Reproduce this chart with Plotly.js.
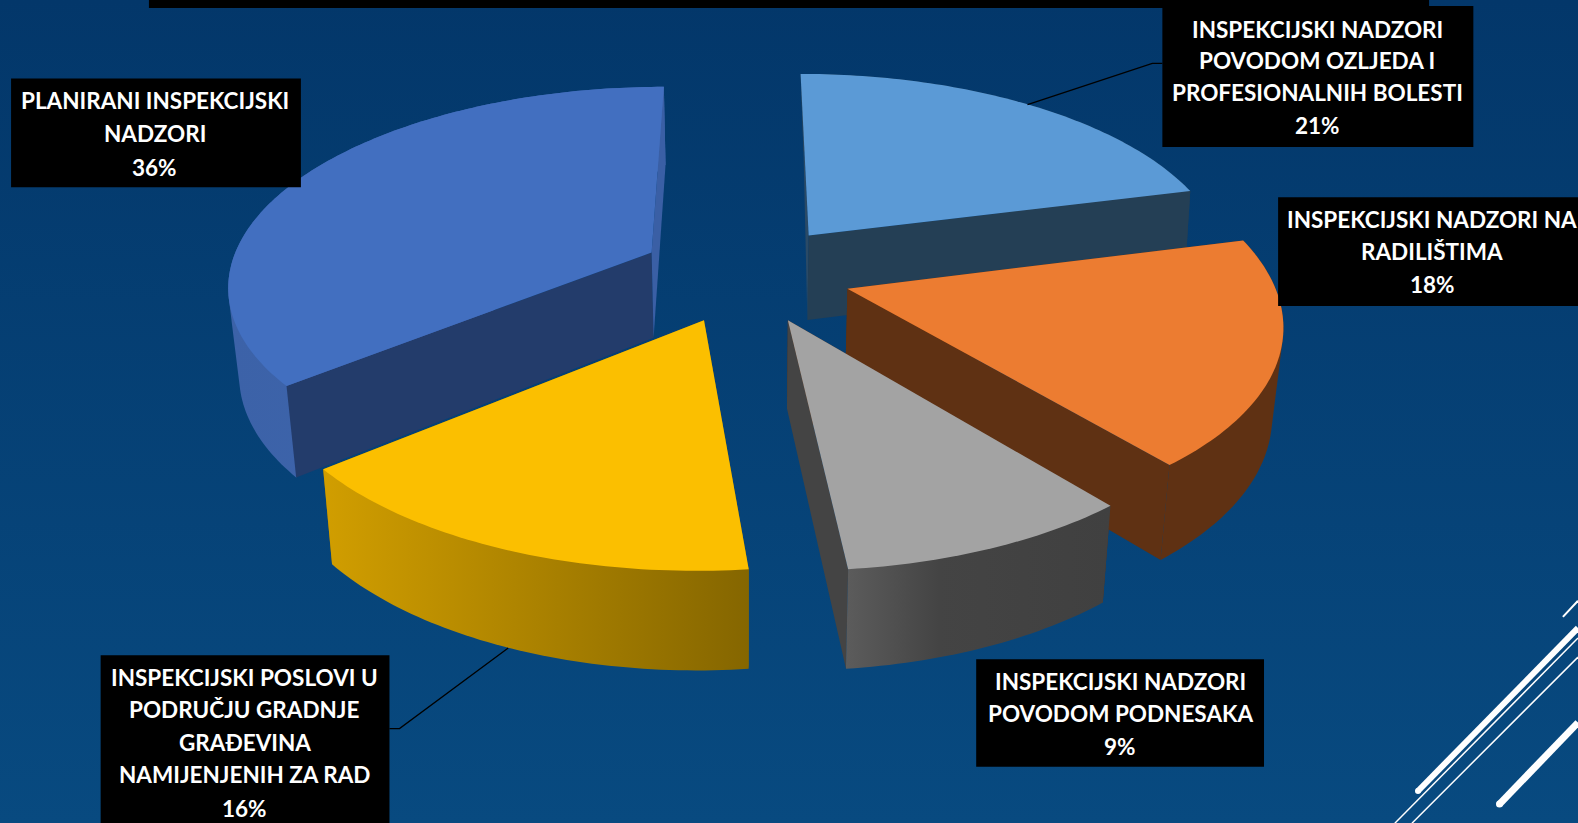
<!DOCTYPE html>
<html><head><meta charset="utf-8">
<script src="https://cdn.plot.ly/plotly-3.0.1.min.js"></script>
<style>html,body{margin:0;padding:0;background:#04406f;overflow:hidden}#c{width:1578px;height:823px}</style>
</head><body><div id="c"></div>
<script>
// ---- data ----
const categories = ["INSPEKCIJSKI NADZORI POVODOM OZLJEDA I PROFESIONALNIH BOLESTI","INSPEKCIJSKI NADZORI NA RADILIŠTIMA","INSPEKCIJSKI NADZORI POVODOM PODNESAKA","INSPEKCIJSKI POSLOVI U PODRUČJU GRADNJE GRAĐEVINA NAMIJENJENIH ZA RAD","PLANIRANI INSPEKCIJSKI NADZORI"];
const values = [21,18.05,9.34,15.66,35.95];
const labelLines = [
 ["INSPEKCIJSKI NADZORI","POVODOM OZLJEDA I","PROFESIONALNIH BOLESTI","21%"],
 ["INSPEKCIJSKI NADZORI NA","RADILIŠTIMA","18%"],
 ["INSPEKCIJSKI NADZORI","POVODOM PODNESAKA","9%"],
 ["INSPEKCIJSKI POSLOVI U","PODRUČJU GRADNJE","GRAĐEVINA","NAMIJENJENIH ZA RAD","16%"],
 ["PLANIRANI INSPEKCIJSKI","NADZORI","36%"]
];
// ---- style ----
const topDraw = ["#5b9ad6","#ec7c31","#a3a3a3","#fbbf00","#426fc0"];
const cutColors = [["#2a4a66","#243f55"],["#5f3113","#5f3113"],["#5f3113","#444444"],["#8a6a00","#8a6a00"],["#233c6b","#3a5fa5"]];
const rimScale = [
 [[0,"#243f55"],[1,"#243f55"]],
 [[0,"#5f3113"],[1,"#5f3113"]],
 [[0,"#5c5c5c"],[0.35,"#444444"],[1,"#404040"]],
 [[0,"#d19e00"],[1,"#856600"]],
 [[0,"#3c62a8"],[1,"#3f68b0"]]];
const rimFirst = [true,true,false,false,true];
const boxes = [[1155,1464,6,146,[29,60,92,125],1309],[1270,1600,196,304,[218,250,283],1423],[970,1256,655,762,[677,709,742],1113],[100,387,651,840,[673,705,738,770,803],243],[11,299,78,186,[100,133,166],154]];
// ---- camera of the 3-D pie (disk -> picture) ----
const HX=741, HY=-1018, Q0=7.755e-4, M=1.175e-4, A=0.326, EXPL=0.25;
const W=1568, H=817.8;
const NUDGE=[4,0,0,0,0];
function proj(X,Y){const d=1/(Q0+M*Y);return [HX+A*X*d, d+HY];}
function drop(p,n){return [p[0]+(HX-p[0])*0.021+(n||0), p[1]+84+0.045*(p[1]-234)];}
function poly(pts,extra){return Object.assign({type:'scatter',mode:'lines',x:pts.map(p=>p[0]),y:pts.map(p=>p[1]),fill:'toself',line:{width:0,simplify:false},hoverinfo:'skip',showlegend:false},extra);}
function hull(pts){
  const p=pts.slice().sort((a,b)=>a[0]-b[0]||a[1]-b[1]);
  const cr=(o,a,b)=>(a[0]-o[0])*(b[1]-o[1])-(a[1]-o[1])*(b[0]-o[0]);
  const lo=[],up=[];
  p.forEach(q=>{while(lo.length>1&&cr(lo[lo.length-2],lo[lo.length-1],q)<=0)lo.pop();lo.push(q);});
  p.slice().reverse().forEach(q=>{while(up.length>1&&cr(up[up.length-2],up[up.length-1],q)<=0)up.pop();up.push(q);});
  const h=lo.slice(0,-1).concat(up.slice(0,-1));h.push(h[0]);return h;
}

const total=values.reduce((a,b)=>a+b,0);
let ang=0; const slices=values.map((v,i)=>{const s=ang,e=ang+v/total*2*Math.PI;ang=e;return {i,s,e};});
const traces=[];
// background
traces.push({type:'scatter',mode:'lines',x:[0,W,W,0,0],y:[0,0,H,H,0],fill:'toself',line:{width:0},hoverinfo:'skip',showlegend:false,
 fillgradient:{type:'vertical',colorscale:[[0,'#084a80'],[1,'#03376a']]}});
// painter order: back to front
[0,4,1,2,3].forEach(k=>{
  const {s,e,i}=slices[k], mid=(s+e)/2, ox=EXPL*Math.sin(mid), oy=EXPL*Math.cos(mid);
  const apex=proj(ox,oy), rim=[];
  const n=Math.ceil((e-s)/(Math.PI/180));
  for(let j=0;j<=n;j++){const t=s+(e-s)*j/n;rim.push(proj(ox+Math.sin(t),oy+Math.cos(t)));}
  const bRim=rim.map(p=>drop(p,NUDGE[i])), bApex=drop(apex);
  const cuts=[poly([apex,rim[0],bRim[0],bApex,apex],{fillcolor:cutColors[i][0]}),
              poly([apex,rim[n],bRim[n],bApex,apex],{fillcolor:cutColors[i][1]})];
  // rim wall: the whole sweep of the rim from top face to bottom face
  const wall=poly(hull(rim.concat(bRim)),{fillcolor:rimScale[i][0][1],fillgradient:{type:'horizontal',colorscale:rimScale[i]}});
  if(rimFirst[i]) traces.push(wall,...cuts); else traces.push(...cuts,wall);
  traces.push(poly([apex].concat(rim).concat([apex]),{fillcolor:topDraw[i]}));
});
// leader lines
const line=(pts)=>({type:'scatter',mode:'lines',x:pts.map(p=>p[0]),y:pts.map(p=>p[1]),line:{color:'#000',width:1.3},hoverinfo:'skip',showlegend:false});
traces.push(line([[1021,104],[1145,63],[1155,63]]));
traces.push(line([[505,644],[397,724],[387,724]]));

const rect=(x0,x1,y0,y1)=>({type:'rect',xref:'x',yref:'y',x0,x1,y0,y1,fillcolor:'#000',line:{width:0},layer:'above'});
const wl=(x0,y0,x1,y1,w)=>({type:'line',xref:'x',yref:'y',x0,y0,x1,y1,line:{color:'#fff',width:w},layer:'above'});
const dot=(x,y,r)=>({type:'circle',xref:'x',yref:'y',x0:x-r,x1:x+r,y0:y-r,y1:y+r,fillcolor:'#fff',line:{width:0},layer:'above'});
const shapes=[rect(148,1420,-5,8)].concat(boxes.map(b=>rect(b[0],b[1],b[2],b[3]))).concat([
 wl(1409,786,1568,624,6),wl(1386,818,1568,634,1.5),wl(1403,818,1568,653,1.5),wl(1490,799,1568,718,7),wl(1553,613,1568,597,2),
 dot(1409,786,3),dot(1490,799,3.5)]);
const annotations=[];
labelLines.forEach((ls,i)=>ls.forEach((t,j)=>annotations.push({xref:'x',yref:'y',x:boxes[i][5],y:boxes[i][4][j],text:t,showarrow:false,xanchor:'center',yanchor:'middle',
  font:{family:'Lato, Carlito, sans-serif',size:22.5,color:'#fff',weight:700}})));
Plotly.newPlot('c',traces,{width:1578,height:823,margin:{l:0,r:0,t:0,b:0},paper_bgcolor:'#04406f',plot_bgcolor:'#04406f',showlegend:false,
 xaxis:{range:[0,W],visible:false,fixedrange:true},yaxis:{range:[H,0],visible:false,fixedrange:true},shapes,annotations},{displayModeBar:false,staticPlot:true});
</script></body></html>
